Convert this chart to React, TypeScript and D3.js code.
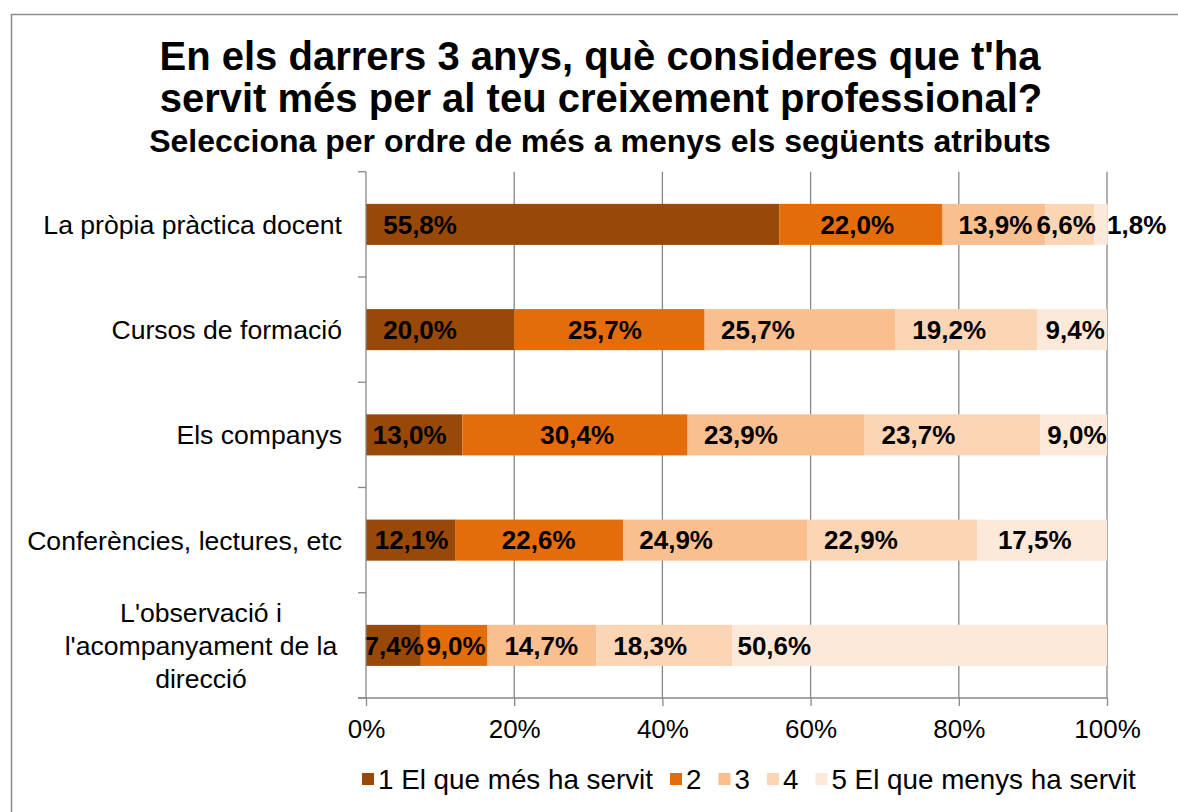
import React, { useEffect, useRef } from "react";
import * as d3 from "d3";

const categories = [
  "La pròpia pràctica docent",
  "Cursos de formació",
  "Els companys",
  "Conferències, lectures, etc",
  "L'observació i l'acompanyament de la direcció",
];
const categoryLines = [
  ["La pròpia pràctica docent"],
  ["Cursos de formació"],
  ["Els companys"],
  ["Conferències, lectures, etc"],
  ["L'observació i", "l'acompanyament de la", "direcció"],
];
const seriesNames = ["1 El que més ha servit", "2", "3", "4", "5 El que menys ha servit"];
const s1 = [55.8, 20.0, 13.0, 12.1, 7.4];
const s2 = [22.0, 25.7, 30.4, 22.6, 9.0];
const s3 = [13.9, 25.7, 23.9, 24.9, 14.7];
const s4 = [6.6, 19.2, 23.7, 22.9, 18.3];
const s5 = [1.8, 9.4, 9.0, 17.5, 50.6];
const seriesValues = [s1, s2, s3, s4, s5];
const xTicks = [0, 20, 40, 60, 80, 100];
const titleLines = [
  "En els darrers 3 anys, què consideres que t'ha",
  "servit més per al teu creixement professional?",
];
const subtitle = "Selecciona per ordre de més a menys els següents atributs";

// label nudges (in % units) replicating hand-placed labels of the original
const labelNudge = [
  [-20.6, -2.7, -0.6, 0.1, 0.1],
  [-0.5, -0.6, 0.3, -0.1, 0.25],
  [0.2, -5.65, -4.75, -5.3, -0.1],
  [-0.5, -2.3, -4.6, -4.25, -1.9],
  [4.8, 0.4, 0.45, -1.0, -19.6],
];

const colors = ["#984807", "#E46C0A", "#F9BF8F", "#FCD5B5", "#FDE9D9"];
const FONT = "'Liberation Sans', Arial, sans-serif";
const GRID = "#878787";

export default function App() {
  const ref = useRef<SVGSVGElement>(null);

  useEffect(() => {
    const svg = d3.select(ref.current);
    svg.selectAll("*").remove();

    // outer border
    svg.append("rect").attr("x", 11.5).attr("y", 14.5).attr("width", 1200).attr("height", 900)
      .attr("fill", "#fff").attr("stroke", "#8c8c8c").attr("stroke-width", 1.5);

    // titles
    const tg = svg.append("g").attr("font-family", FONT).attr("font-weight", "bold").attr("fill", "#000").attr("text-anchor", "middle");
    tg.append("text").attr("x", 600).attr("y", 70).attr("font-size", 40).text(titleLines[0]);
    tg.append("text").attr("x", 601).attr("y", 112).attr("font-size", 40).text(titleLines[1]);
    tg.append("text").attr("x", 600).attr("y", 152).attr("font-size", 32).text(subtitle);

    const x = d3.scaleLinear().domain([0, 100]).range([366, 1107]);
    const y = d3.scaleBand<string>().domain(categories).range([171.75, 698]).padding(0);
    const barH = y.step() * 0.39;

    // gridlines
    svg.append("g").selectAll("line").data(xTicks.slice(1)).join("line")
      .attr("x1", d => x(d)).attr("x2", d => x(d)).attr("y1", 171.75).attr("y2", 698)
      .attr("stroke", GRID).attr("stroke-width", 1.3);

    // stacked bars
    const table = categories.map((c, i) => {
      const row: any = { cat: c };
      seriesNames.forEach((s, j) => (row[s] = seriesValues[j][i]));
      return row;
    });
    const stack = d3.stack<any>().keys(seriesNames)(table);
    const bars = svg.append("g");
    stack.forEach((layer, j) => {
      bars.append("g").attr("fill", colors[j]).selectAll("rect").data(layer).join("rect")
        .attr("x", d => x(d[0])).attr("width", d => x(d[1]) - x(d[0]))
        .attr("y", d => (y(d.data.cat) as number) + (y.step() - barH) / 2)
        .attr("height", barH);
    });

    // data labels
    const lg = svg.append("g").attr("font-family", FONT).attr("font-weight", "bold").attr("font-size", 26)
      .attr("text-anchor", "middle").attr("fill", "#000");
    stack.forEach((layer, j) => {
      layer.forEach((d, i) => {
        const v = seriesValues[j][i];
        lg.append("text")
          .attr("x", x((d[0] + d[1]) / 2 + labelNudge[j][i]))
          .attr("y", (y(d.data.cat) as number) + y.step() / 2)
          .attr("dy", "0.36em")
          .text(v.toFixed(1).replace(".", ",") + "%");
      });
    });

    // left axis
    svg.append("line").attr("x1", 366).attr("x2", 366).attr("y1", 171.75).attr("y2", 698)
      .attr("stroke", GRID).attr("stroke-width", 1.3);
    const bounds = d3.range(categories.length + 1).map(i => 171.75 + i * y.step());
    svg.append("g").selectAll("line").data(bounds).join("line")
      .attr("x1", 358).attr("x2", 366).attr("y1", d => d).attr("y2", d => d)
      .attr("stroke", GRID).attr("stroke-width", 1.3);

    // bottom axis
    const xAxis = d3.axisBottom(x).tickValues(xTicks).tickFormat(d => d + "%").tickSize(8).tickSizeOuter(0).tickPadding(14);
    const ax = svg.append("g").attr("transform", "translate(0,698)").call(xAxis as any);
    ax.select(".domain").remove();
    ax.selectAll(".tick line").attr("stroke", GRID).attr("stroke-width", 1.3);
    ax.selectAll(".tick text").attr("font-family", FONT).attr("font-size", 26).attr("fill", "#000");
    svg.append("line").attr("x1", 358).attr("x2", 1107).attr("y1", 698).attr("y2", 698)
      .attr("stroke", GRID).attr("stroke-width", 1.3);

    // category labels
    const cg = svg.append("g").attr("font-family", FONT).attr("font-size", 26.6).attr("fill", "#000");
    categoryLines.forEach((lines, i) => {
      const cy = (y(categories[i]) as number) + y.step() / 2;
      const lh = 33;
      if (lines.length === 1) {
        cg.append("text").attr("x", 342).attr("y", cy).attr("dy", "0.36em").attr("text-anchor", "end").text(lines[0]);
      } else {
        lines.forEach((l, k) => {
          cg.append("text").attr("x", 201).attr("y", cy + (k - (lines.length - 1) / 2) * lh)
            .attr("dy", "0.36em").attr("text-anchor", "middle").text(l);
        });
      }
    });

    // legend
    const leg = svg.append("g").attr("font-family", FONT).attr("font-size", 27.8).attr("fill", "#000");
    let lx = 362;
    const ly = 779;
    seriesNames.forEach((s, j) => {
      leg.append("rect").attr("x", lx).attr("y", ly - 6).attr("width", 12).attr("height", 12).attr("fill", colors[j]);
      const t = leg.append("text").attr("x", lx + 16).attr("y", ly).attr("dy", "0.36em").text(s);
      const w = (t.node() as SVGTextElement).getComputedTextLength();
      lx += 16 + w + 17;
    });
  }, []);

  return (
    <svg ref={ref} width={1178} height={812} style={{ position: "absolute", left: 0, top: 0, background: "#fff" }} />
  );
}
